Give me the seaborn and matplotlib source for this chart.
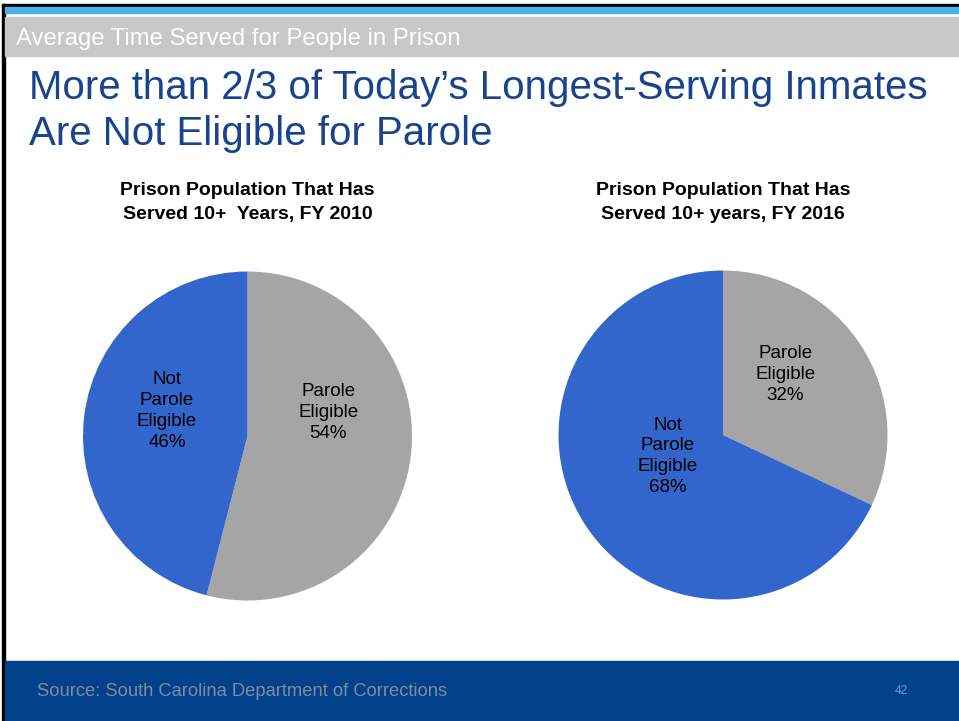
import matplotlib
matplotlib.use("Agg")
import matplotlib.pyplot as plt
import seaborn as sns
from matplotlib.patches import Rectangle

# Daten
categories = ["Parole\nEligible", "Not\nParole\nEligible"]
share_2010 = [54, 46]
share_2016 = [32, 68]
pie_titles = ["Prison Population That Has\nServed 10+  Years, FY 2010",
              "Prison Population That Has\nServed 10+ years, FY 2016"]
header = "Average Time Served for People in Prison"
title = "More than 2/3 of Today\u2019s Longest-Serving Inmates\nAre Not Eligible for Parole"
source = "Source: South Carolina Department of Corrections"
page_no = "42"

# Farben
pie_colors = ["#A5A5A5", "#3366CC"]
title_blue = "#17438F"
navy = "#01408A"

sns.set_theme(style="white")
plt.rcParams["font.family"] = ["Liberation Sans", "DejaVu Sans"]

W, H = 959, 721
fig = plt.figure(figsize=(W / 100, H / 100), dpi=100)
fig.patch.set_facecolor("white")

# Hintergrund-Achse in Pixelkoordinaten
bg = fig.add_axes([0, 0, 1, 1], zorder=0)
bg.set_xlim(0, W)
bg.set_ylim(H, 0)
bg.axis("off")
bg.add_patch(Rectangle((2, 4), W, 3, color="black"))
bg.add_patch(Rectangle((2, 4), 2.5, H, color="black"))
bg.add_patch(Rectangle((4.5, 7), W, 6, color="#4DB0E6"))
bg.add_patch(Rectangle((4.5, 17), W, 39, color="#C8C8C8"))
bg.add_patch(Rectangle((4.5, 661), W, H - 661, color=navy))

bg.text(16, 39, header, color="white", fontsize=17.2, va="center", ha="left")
bg.text(29, 111, title, color=title_blue, fontsize=29, va="center", ha="left",
        linespacing=1.27)
bg.text(37, 691, source, color="#7F8C9E", fontsize=13.2, va="center", ha="left")
bg.text(901, 691, page_no, color="#4DA3E0", fontsize=8.5, va="center", ha="center")

# Kreisdiagramme: Mittelpunkt, Radius in Pixel, Label-Offsets (Anteil vom Radius)
pies = [
    (share_2010, (247.5, 436), [(0.49, 0.145), (-0.49, 0.15)]),
    (share_2016, (723, 435), [(0.38, 0.37), (-0.335, -0.13)]),
]
R = 164.5

for (vals, (cx, cy), offsets), ttl in zip(pies, pie_titles):
    ax = fig.add_axes([(cx - R) / W, (H - cy - R) / H, 2 * R / W, 2 * R / H], zorder=1)
    ax.pie(vals, colors=pie_colors, startangle=90, counterclock=False,
           wedgeprops=dict(linewidth=0))
    ax.set_xlim(-1, 1)
    ax.set_ylim(-1, 1)
    ax.set_aspect("equal")
    ax.axis("off")
    for cat, v, (dx, dy) in zip(categories, vals, offsets):
        ax.text(dx, dy, f"{cat}\n{v}%", ha="center", va="center", fontsize=13.5,
                color="black", linespacing=1.3)
    bg.text(cx, 202.5, ttl, ha="center", va="center", fontsize=14, fontweight="bold",
            color="black", linespacing=1.55)

fig.savefig("out.png", dpi=100)
